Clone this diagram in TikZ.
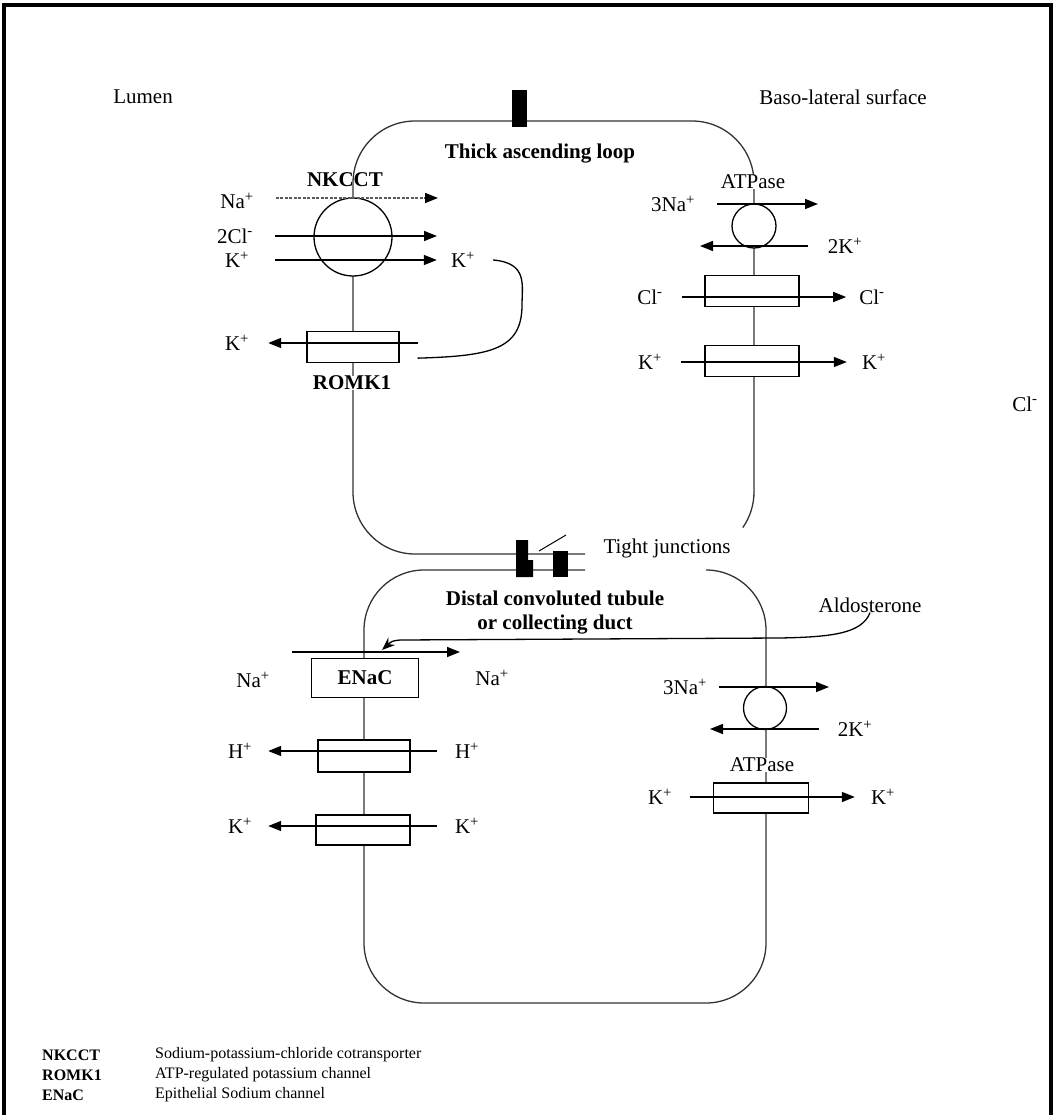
\documentclass[tikz,border=0pt]{standalone}
\usepackage{fontspec}
\setmainfont{Liberation Serif}
\usetikzlibrary{arrows.meta}
\tikzset{
	membrane/.style={line width=1.3pt, color=black!80},
	ion/.style={line width=1.5pt, -{Triangle[length=13pt,width=10pt]}},
	faint/.style={dash pattern=on 3pt off 1.5pt, color=black!65, -{Triangle[length=13pt,width=10pt,black]}},
	channel/.style={draw, fill=white, line width=1.3pt, minimum width=94pt, minimum height=31pt},
	pump/.style={circle, draw, fill=white, line width=1.3pt},
	boldtext/.style={font=\fontsize{21}{24}\selectfont\bfseries},
	legend/.style={anchor=west, font=\fontsize{16}{20}\selectfont},
	legendbold/.style={anchor=west, font=\fontsize{16}{20}\selectfont\bfseries},
}

\begin{document}
\begin{tikzpicture}[x=1pt, y=-1pt, inner sep=0pt, font=\fontsize{21}{24}\selectfont]
		%%%%% START %%%%%
		\useasboundingbox (0,0) rectangle (1054,1115);
		\draw[line width=4pt] (4,1115) -- (4,5) -- (1051,5) -- (1051,1115);
		
		% the two cells
		\draw[membrane, rounded corners=62pt] (585,554) -- (353,554) -- (353,121) -- (754,121) -- (754,492);
		\draw[membrane] (754,492) arc[start angle=0, end angle=35, radius=62];
		\draw[membrane, rounded corners=60pt] (585,570) -- (364,570) -- (364,1003) -- (766,1003) -- (766,570) -- (706,570);
		
		% tight junctions
		\fill (512,90) rectangle (527,127);
		\fill (516,540) -- (528,540) -- (528,560) -- (533,560) -- (533,577) -- (516,577) -- cycle;
		\fill (553,551) rectangle (568,577);
		\draw[line width=1pt] (539,551) -- (566,535);
		
		\node (lumen) at (143,97) {Lumen};
		\node (baso) at (843,97) {Baso-lateral surface};
		\node[boldtext] (tal) at (540,154) {Thick ascending loop};
		\node (tj) at (667,548) {Tight junctions};
		\node[boldtext, align=center] (dct) at (555,613) {Distal convoluted tubule\\or collecting duct};
		\node (ald) at (870,605) {Aldosterone};
		\node (clfar) at (1025,404) {Cl\textsuperscript{-}};
		
		% thick ascending loop, lumen side
		\node[pump, minimum size=78pt] (nkcct) at (353,237) {};
		\node[boldtext] (nkcctlbl) at (345,180) {NKCCT};
		\node[channel, minimum width=92pt] (romk) at (353,347) {};
		\node[boldtext, fill=white] (romklbl) at (352,383) {ROMK1};
		\node (na1) at (237,201) {Na\textsuperscript{+}};
		\node (cl1) at (235,236) {2Cl\textsuperscript{-}};
		\node (k1) at (237,260) {K\textsuperscript{+}};
		\node (k2) at (463,260) {K\textsuperscript{+}};
		\node (k3) at (237,343) {K\textsuperscript{+}};
		\coordinate (nkna) at (438,198);
		\coordinate (nkcl) at (437,236);
		\coordinate (romkin) at (418,343);
		\draw[ion, faint, shorten <=22pt] (na1.east |- nkna) -- (nkna);
		\draw[ion, shorten <=22pt] (cl1) -- (nkcl);
		\draw[ion, shorten <=26pt, shorten >=14pt] (k1) -- (k2);
		\draw[ion, shorten >=19pt] (romkin) -- (k3);
		\draw[line width=1.3pt] ([xshift=18pt]k2.east) .. controls (528,263) and (522,285) .. (522,305)
			.. controls (522,350) and (490,356) .. ([xshift=18pt,yshift=5pt]romk.south east);
		
		% thick ascending loop, baso-lateral side
		\node[pump, minimum size=44pt] (atp1) at (754,226) {};
		\node[fill=white] (atp1lbl) at (753,182) {ATPase};
		\node[channel] (clch) at (752,291) {};
		\node[channel] (kch1) at (752,361) {};
		\node (na2) at (673,204) {3Na\textsuperscript{+}};
		\node (k4) at (845,246) {2K\textsuperscript{+}};
		\node (cl2) at (650,297) {Cl\textsuperscript{-}};
		\node (cl3) at (872,297) {Cl\textsuperscript{-}};
		\node (k5) at (650,362) {K\textsuperscript{+}};
		\node (k6) at (874,362) {K\textsuperscript{+}};
		\coordinate (atpna1) at (818,204);
		\coordinate (atpk1) at (700,246);
		\draw[ion, shorten <=22pt] (na2) -- (atpna1);
		\draw[ion, shorten <=20pt] (k4) -- (atpk1);
		\draw[ion, shorten <=19pt, shorten >=13pt] (cl2) -- (cl3);
		\draw[ion, shorten <=19pt, shorten >=15pt] (k5) -- (k6);
		
		% distal tubule, lumen side
		\coordinate (enacin) at (292,652);
		\coordinate (enacout) at (460,652);
		\draw[ion] (enacin) -- (enacout);
		\node[channel, boldtext, minimum width=107pt, minimum height=39pt] (enac) at (365,678) {ENaC};
		\node (na3) at (253,680) {Na\textsuperscript{+}};
		\node (na4) at (492,678) {Na\textsuperscript{+}};
		\node[channel, minimum width=92pt, minimum height=32pt] (hch) at (364,756) {};
		\node (h1) at (240,751) {H\textsuperscript{+}};
		\node (h2) at (467,751) {H\textsuperscript{+}};
		\draw[ion, shorten <=18pt, shorten >=16pt] (h2) -- (h1);
		\node[channel, minimum height=30pt] (kch2) at (363,830) {};
		\node (k7) at (240,826) {K\textsuperscript{+}};
		\node (k8) at (467,826) {K\textsuperscript{+}};
		\draw[ion, shorten <=18pt, shorten >=16pt] (k8) -- (k7);
		
		% distal tubule, baso-lateral side
		\node[pump, minimum size=43pt] (atp2) at (765,708) {};
		\node (na5) at (685,687) {3Na\textsuperscript{+}};
		\node (k9) at (855,729) {2K\textsuperscript{+}};
		\coordinate (atpna2) at (829,687);
		\coordinate (atpk2) at (710,729);
		\draw[ion, shorten <=12pt] (na5) -- (atpna2);
		\draw[ion, shorten <=19pt] (k9) -- (atpk2);
		\node[fill=white] (atp2lbl) at (762,765) {ATPase};
		\node[channel, minimum width=95pt, minimum height=30pt] (kch3) at (761,798) {};
		\node (k10) at (660,797) {K\textsuperscript{+}};
		\node (k11) at (883,797) {K\textsuperscript{+}};
		\draw[ion, shorten <=18pt, shorten >=16pt] (k10) -- (k11);
		
		% aldosterone acts on ENaC
		\coordinate (aldtip) at (382,650);
		\draw[line width=1.3pt, -{Stealth[length=13pt,width=10pt]}] (ald.south) .. controls (862,634) and (830,637) .. (780,638)
			-- (400,640) .. controls (392,641) .. (aldtip);
		
		% legend
		\node[legendbold] (l1) at (42,1055) {NKCCT};
		\node[legend] (l1t) at (155,1055) {Sodium-potassium-chloride cotransporter};
		\node[legendbold] (l2) at (42,1075) {ROMK1};
		\node[legend] (l2t) at (155,1075) {ATP-regulated potassium channel};
		\node[legendbold] (l3) at (42,1095) {ENaC};
		\node[legend] (l3t) at (155,1095) {Epithelial Sodium channel};
		
		%%%%% END %%%%%
	\end{tikzpicture}
\end{document}
